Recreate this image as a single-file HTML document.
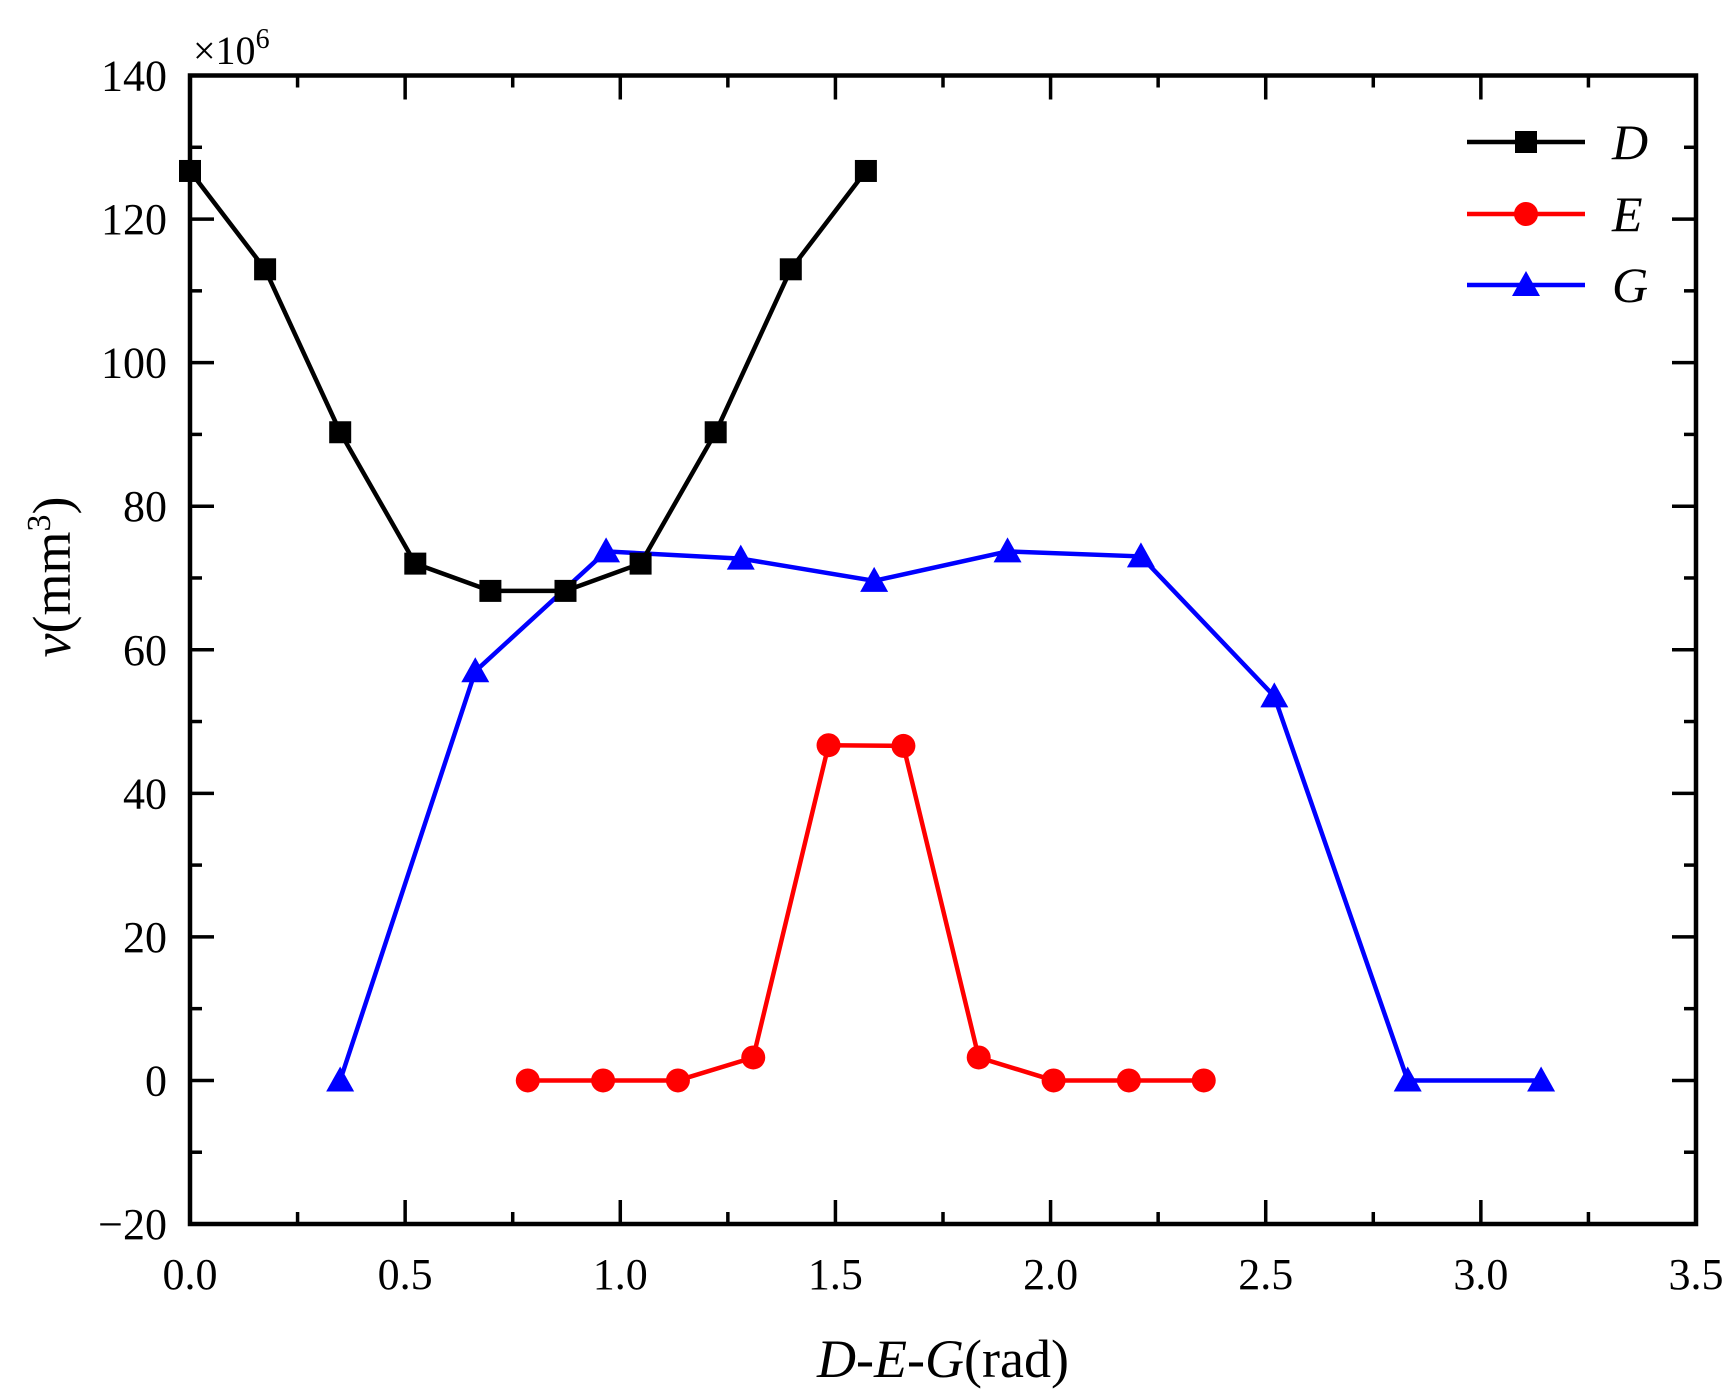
<!DOCTYPE html>
<html><head><meta charset="utf-8"><style>
html,body{margin:0;padding:0;background:#fff;}
svg{display:block;font-family:"Liberation Serif",serif;}
</style></head><body>
<svg id="s" width="1735" height="1400" xmlns="http://www.w3.org/2000/svg"></svg>
<script>
const L=190,R=1696,T=75.5,B=1224;
const X=v=>L+v*(R-L)/3.5, Y=v=>B-(v+20)*(B-T)/160;
let h='';
for(let i=0;i<=14;i++){const v=i*0.25,x=X(v),len=i%2?12:24;
 h+=`<line x1="${x}" y1="${B}" x2="${x}" y2="${B-len}" stroke="#000" stroke-width="3.5"/>`;
 h+=`<line x1="${x}" y1="${T}" x2="${x}" y2="${T+len}" stroke="#000" stroke-width="3.5"/>`;
 if(i%2==0) h+=`<text x="${x}" y="${B+65}" font-size="44" text-anchor="middle">${v.toFixed(1)}</text>`;}
for(let i=0;i<=16;i++){const v=-20+i*10,y=Y(v),len=i%2?12:24;
 h+=`<line x1="${L}" y1="${y}" x2="${L+len}" y2="${y}" stroke="#000" stroke-width="3.5"/>`;
 h+=`<line x1="${R}" y1="${y}" x2="${R-len}" y2="${y}" stroke="#000" stroke-width="3.5"/>`;
 if(i%2==0) h+=`<text x="167" y="${y+15}" font-size="44" text-anchor="end">${v<0?'\u2212'+(-v):v}</text>`;}
h+=`<rect x="${L}" y="${T}" width="${R-L}" height="${B-T}" fill="none" stroke="#000" stroke-width="4.5"/>`;
h+=`<text x="193" y="64" font-size="40">×10<tspan font-size="28" dy="-16">6</tspan></text>`;
const p=Math.PI/18;
const D=[[0,126.7],[p,113],[2*p,90.3],[3*p,72],[4*p,68.2],[5*p,68.2],[6*p,72],[7*p,90.3],[8*p,113],[9*p,126.7]];
const E=[[0.785,0],[0.96,0],[1.134,0],[1.309,3.2],[1.484,46.7],[1.658,46.6],[1.833,3.2],[2.007,0],[2.182,0],[2.356,0]];
const G=[[0.349,0],[0.663,57],[0.967,73.7],[1.28,72.7],[1.59,69.6],[1.9,73.7],[2.21,73],[2.52,53.5],[2.83,0],[3.14,0]];
function mk(t,x,y,c){if(t=='s')return `<rect x="${x-11}" y="${y-11}" width="22" height="22" fill="${c}"/>`;
 if(t=='c')return `<circle cx="${x}" cy="${y}" r="12" fill="${c}"/>`;
 return `<polygon points="${x},${y-14} ${x-14},${y+11} ${x+14},${y+11}" fill="${c}"/>`;}
function ser(d,c,t){h+=`<polyline points="${d.map(q=>X(q[0])+','+Y(q[1])).join(' ')}" fill="none" stroke="${c}" stroke-width="4.5"/>`;
 d.forEach(q=>h+=mk(t,X(q[0]),Y(q[1]),c));}
ser(G,'#0000ff','t');ser(E,'#ff0000','c');ser(D,'#000','s');
[['D','#000','s',142],['E','#ff0000','c',214],['G','#0000ff','t',285]].forEach(a=>{
 h+=`<line x1="1467" y1="${a[3]}" x2="1585" y2="${a[3]}" stroke="${a[1]}" stroke-width="4.5"/>`+mk(a[2],1526,a[3],a[1]);
 h+=`<text x="1612" y="${a[3]+17}" font-size="50" font-style="italic">${a[0]}</text>`;});
h+=`<text x="943" y="1377" font-size="54" text-anchor="middle"><tspan font-style="italic">D</tspan>-<tspan font-style="italic">E</tspan>-<tspan font-style="italic">G</tspan>(rad)</text>`;
h+=`<text transform="translate(70,577) rotate(-90)" font-size="54" text-anchor="middle"><tspan font-style="italic">v</tspan>(mm<tspan font-size="34" dy="-20">3</tspan><tspan dy="20">)</tspan></text>`;
document.getElementById('s').innerHTML=h;
</script>
</body></html>
